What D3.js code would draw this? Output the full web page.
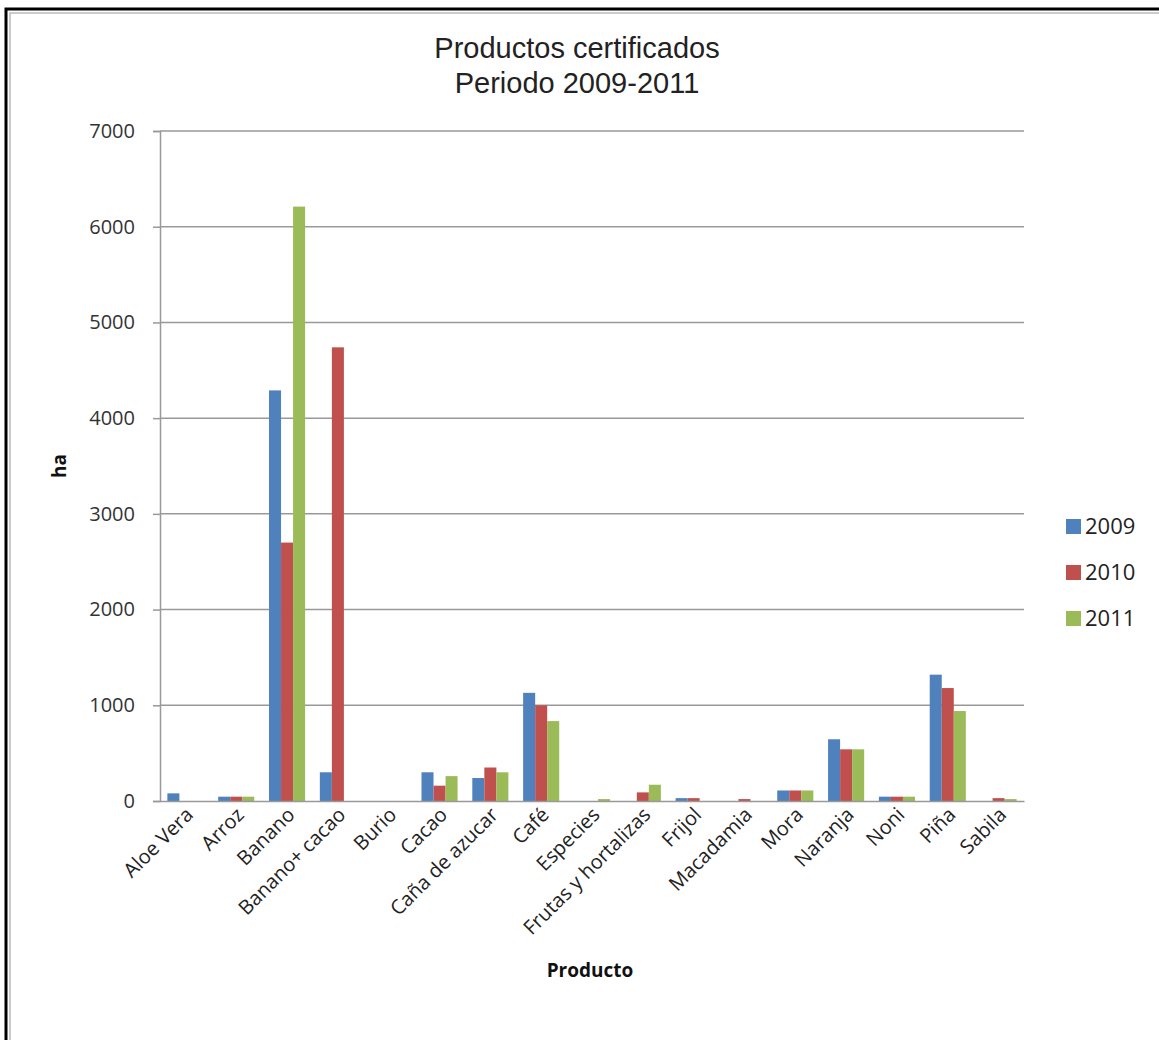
<!DOCTYPE html>
<html>
<head>
<meta charset="utf-8">
<script src="https://cdn.jsdelivr.net/npm/d3@7"></script>
<style>
	html, body { margin: 0; padding: 0; background: #fff; }
	svg { display: block; }
</style>
</head>
<body>
<svg width="1159" height="1040"></svg>
<script>
const productos = ['Aloe Vera', 'Arroz', 'Banano', 'Banano+ cacao', 'Burio', 'Cacao', 'Caña de azucar',
	'Café', 'Especies', 'Frutas y hortalizas', 'Frijol', 'Macadamia', 'Mora', 'Naranja', 'Noni', 'Piña', 'Sabila'];
const years = ['2009', '2010', '2011'];
const ha2009 = [80, 45, 4290, 300, 0, 300, 240, 1130, 0, 0, 30, 0, 110, 645, 45, 1320, 0];
const ha2010 = [0, 45, 2700, 4740, 0, 160, 350, 1000, 0, 90, 30, 20, 110, 540, 45, 1180, 30];
const ha2011 = [0, 45, 6210, 0, 0, 260, 300, 835, 20, 170, 0, 0, 110, 540, 45, 940, 20];
const yTicks = [0, 1000, 2000, 3000, 4000, 5000, 6000, 7000];
const colors = ['#4f81bd', '#c0504d', '#9bbb59'];

const svg = d3.select('svg'),
	plotLeft = 160, plotRight = 1024, plotTop = 131, plotBottom = 801;

let rows = productos.map(function (p, i) {
	return {name: p, values: [ha2009[i], ha2010[i], ha2011[i]]};
});

// frame round the picture
svg.append('rect').attr('x', 0).attr('y', 0).attr('width', 1159).attr('height', 1040).attr('fill', '#fff');
svg.append('path').attr('d', 'M6,1040 V9 H1159').attr('fill', 'none').attr('stroke', '#000').attr('stroke-width', 3);
svg.append('path').attr('d', 'M10,1040 V13 H1159').attr('fill', 'none').attr('stroke', '#bbb').attr('stroke-width', 1.5);

let x = d3.scaleBand().domain(productos).range([plotLeft, plotRight]).paddingInner(0.29).paddingOuter(0.145);
let xs = d3.scaleBand().domain(years).range([0, x.bandwidth()]);
let y = d3.scaleLinear().domain([0, 7000]).range([plotBottom, plotTop]);

// gridlines
svg.append('g')
	.selectAll('line')
	.data(yTicks.slice(1))
	.enter().append('line')
	.attr('x1', plotLeft).attr('x2', plotRight)
	.attr('y1', function (d) { return y(d); })
	.attr('y2', function (d) { return y(d); })
	.attr('stroke', '#999').attr('stroke-width', 1.5);

// bars
let groups = svg.append('g')
	.selectAll('g')
	.data(rows)
	.enter().append('g')
	.attr('transform', function (d) { return `translate(${x(d.name)},0)`; });

groups.selectAll('rect')
	.data(function (d) { return d.values; })
	.enter().append('rect')
	.attr('x', function (d, i) { return xs(years[i]); })
	.attr('y', function (d) { return y(d); })
	.attr('width', xs.bandwidth())
	.attr('height', function (d) { return plotBottom - y(d); })
	.attr('fill', function (d, i) { return colors[i]; });

// y axis
let yAxis = svg.append('g')
	.attr('transform', `translate(${plotLeft},0)`)
	.call(d3.axisLeft(y).tickValues(yTicks).tickFormat(d3.format('d')).tickSize(7).tickPadding(18));
yAxis.select('.domain').attr('stroke', '#999').attr('stroke-width', 1.5);
yAxis.selectAll('.tick line').attr('stroke', '#999').attr('stroke-width', 1.5);
yAxis.selectAll('text')
	.attr('font-family', 'Open Sans, sans-serif')
	.attr('font-size', 20)
	.attr('fill', '#333');

// x axis
let xAxis = svg.append('g')
	.attr('transform', `translate(0,${plotBottom})`)
	.call(d3.axisBottom(x).tickSize(0).tickPadding(0));
xAxis.select('.domain').attr('stroke', '#999').attr('stroke-width', 1.5);
xAxis.selectAll('text')
	.attr('font-family', 'Open Sans, sans-serif')
	.attr('font-size', 20)
	.attr('fill', '#222')
	.attr('text-anchor', 'end')
	.attr('dy', 0)
	.attr('transform', 'translate(9,15) rotate(-45)');

// titles
svg.append('text')
	.attr('x', 577).attr('y', 58)
	.attr('text-anchor', 'middle')
	.attr('font-family', 'Liberation Sans, Arial, sans-serif')
	.attr('font-size', 29)
	.attr('fill', '#222')
	.text('Productos certificados');
svg.append('text')
	.attr('x', 577).attr('y', 93)
	.attr('text-anchor', 'middle')
	.attr('font-family', 'Liberation Sans, Arial, sans-serif')
	.attr('font-size', 29)
	.attr('fill', '#222')
	.text('Periodo 2009-2011');

svg.append('text')
	.attr('x', 590).attr('y', 977)
	.attr('text-anchor', 'middle')
	.attr('font-family', 'Open Sans, sans-serif')
	.attr('font-weight', 'bold')
	.attr('font-size', 19)
	.attr('fill', '#111')
	.text('Producto');

svg.append('text')
	.attr('transform', 'translate(66,466) rotate(-90)')
	.attr('text-anchor', 'middle')
	.attr('font-family', 'Open Sans, sans-serif')
	.attr('font-weight', 'bold')
	.attr('font-size', 19)
	.attr('fill', '#111')
	.text('ha');

// legend
let legend = svg.append('g')
	.selectAll('g')
	.data(years)
	.enter().append('g')
	.attr('transform', function (d, i) { return `translate(1066,${519 + i * 46})`; });

legend.append('rect')
	.attr('width', 15).attr('height', 15)
	.attr('fill', function (d, i) { return colors[i]; });

legend.append('text')
	.attr('x', 19).attr('y', 15)
	.attr('font-family', 'Open Sans, sans-serif')
	.attr('font-size', 22)
	.attr('fill', '#222')
	.text(function (d) { return d; });
</script>
</body>
</html>
